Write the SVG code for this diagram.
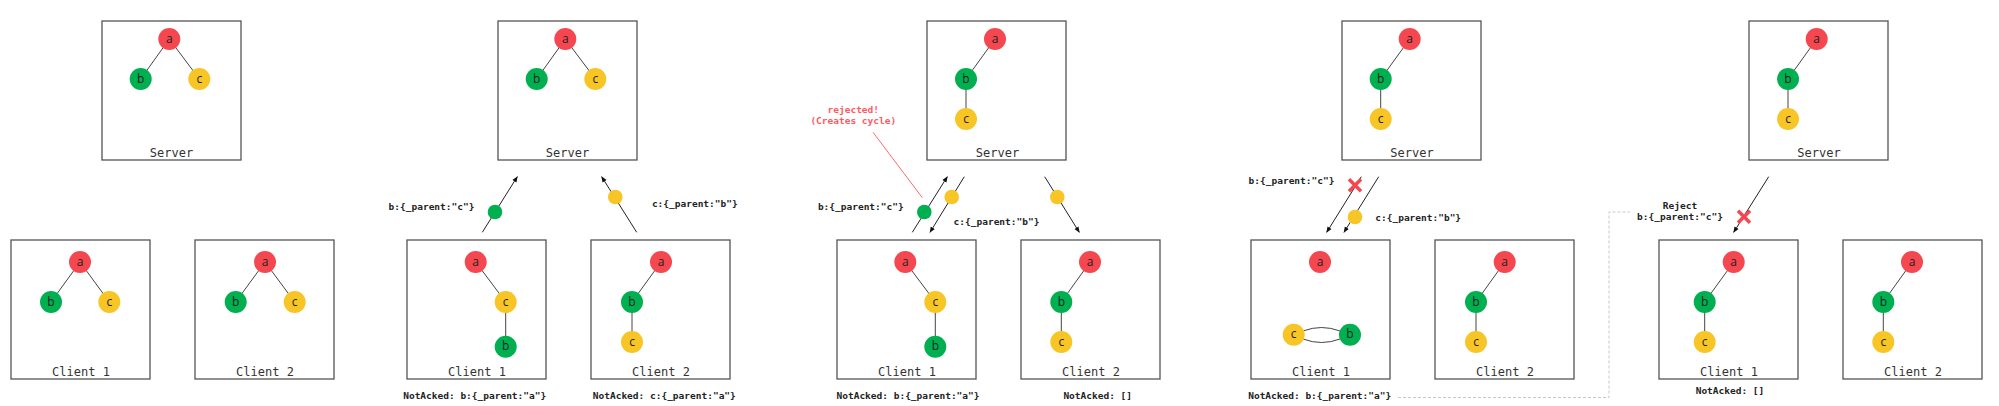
<svg xmlns="http://www.w3.org/2000/svg" width="1999" height="406" viewBox="0 0 1999 406">
<defs>
<marker id="ah" viewBox="0 0 10 10" refX="9" refY="5" markerWidth="6" markerHeight="6" orient="auto-start-reverse" markerUnits="userSpaceOnUse">
<path d="M0,1 L10,5 L0,9 z" fill="#111"/>
</marker>
<style>
.box{fill:#fff;stroke:#555;stroke-width:1.3}
.bt{font-family:"DejaVu Sans Mono","Liberation Mono",monospace;font-size:12px;fill:#333;text-anchor:middle}
.e{stroke:#444;stroke-width:1;fill:none}
.ra{fill:#f4474f}
.gb{fill:#00b050}
.yc{fill:#f8c526}
.nt{font-family:"Open Sans","Noto Sans",sans-serif;font-size:12px;fill:#222;text-anchor:middle;dominant-baseline:central}
.lb{font-family:"DejaVu Sans Mono","Liberation Mono",monospace;font-size:9.5px;font-weight:bold;fill:#222;text-anchor:middle}
.rj{font-family:"DejaVu Sans Mono","Liberation Mono",monospace;font-size:9.5px;font-weight:bold;fill:#ff5a60;text-anchor:middle}
.ar{stroke:#222;stroke-width:1;fill:none;marker-end:url(#ah)}
.x{stroke:#f4474f;stroke-width:3.5;fill:none}
</style>
</defs>

<!-- Panel 1 -->
<g id="p1-server">
<rect class="box" x="102" y="21" width="139" height="139"/>
<line class="e" x1="169.3" y1="39" x2="140.7" y2="79"/><line class="e" x1="169.3" y1="39" x2="199.3" y2="79"/>
<circle class="ra" cx="169.3" cy="39" r="11"/><text class="nt" x="169.3" y="38">a</text>
<circle class="gb" cx="140.7" cy="79" r="11"/><text class="nt" x="140.7" y="78">b</text>
<circle class="yc" cx="199.3" cy="79" r="11"/><text class="nt" x="199.3" y="78">c</text>
<text class="bt" x="171.5" y="157">Server</text>
</g>
<g id="p1-client1">
<rect class="box" x="11" y="240" width="139" height="139"/>
<line class="e" x1="80" y1="262" x2="51" y2="302"/><line class="e" x1="80" y1="262" x2="109.3" y2="302"/>
<circle class="ra" cx="80" cy="262" r="11"/><text class="nt" x="80" y="261">a</text>
<circle class="gb" cx="51" cy="302" r="11"/><text class="nt" x="51" y="301">b</text>
<circle class="yc" cx="109.3" cy="302" r="11"/><text class="nt" x="109.3" y="301">c</text>
<text class="bt" x="81" y="376">Client 1</text>
</g>
<g id="p1-client2">
<rect class="box" x="195" y="240" width="139" height="139"/>
<line class="e" x1="265" y1="262" x2="235.7" y2="302"/><line class="e" x1="265" y1="262" x2="294.7" y2="302"/>
<circle class="ra" cx="265" cy="262" r="11"/><text class="nt" x="265" y="261">a</text>
<circle class="gb" cx="235.7" cy="302" r="11"/><text class="nt" x="235.7" y="301">b</text>
<circle class="yc" cx="294.7" cy="302" r="11"/><text class="nt" x="294.7" y="301">c</text>
<text class="bt" x="265" y="376">Client 2</text>
</g>

<!-- Panel 2 -->
<g id="p2-server">
<rect class="box" x="498" y="21" width="139" height="139"/>
<line class="e" x1="565.3" y1="39" x2="536.7" y2="79"/><line class="e" x1="565.3" y1="39" x2="595.3" y2="79"/>
<circle class="ra" cx="565.3" cy="39" r="11"/><text class="nt" x="565.3" y="38">a</text>
<circle class="gb" cx="536.7" cy="79" r="11"/><text class="nt" x="536.7" y="78">b</text>
<circle class="yc" cx="595.3" cy="79" r="11"/><text class="nt" x="595.3" y="78">c</text>
<text class="bt" x="567.5" y="157">Server</text>
</g>
<g id="p2-client1">
<rect class="box" x="407" y="240" width="139" height="139"/>
<line class="e" x1="475.7" y1="262" x2="505.7" y2="302"/><line class="e" x1="505.7" y1="302" x2="505.7" y2="346.7"/>
<circle class="ra" cx="475.7" cy="262" r="11"/><text class="nt" x="475.7" y="261">a</text>
<circle class="yc" cx="505.7" cy="302" r="11"/><text class="nt" x="505.7" y="301">c</text>
<circle class="gb" cx="505.7" cy="346.7" r="11"/><text class="nt" x="505.7" y="345.7">b</text>
<text class="bt" x="477" y="376">Client 1</text>
</g>
<g id="p2-client2">
<rect class="box" x="591" y="240" width="139" height="139"/>
<line class="e" x1="661" y1="262" x2="632" y2="302"/><line class="e" x1="632" y1="302" x2="632" y2="342"/>
<circle class="ra" cx="661" cy="262" r="11"/><text class="nt" x="661" y="261">a</text>
<circle class="gb" cx="632" cy="302" r="11"/><text class="nt" x="632" y="301">b</text>
<circle class="yc" cx="632" cy="342" r="11"/><text class="nt" x="632" y="341">c</text>
<text class="bt" x="661" y="376">Client 2</text>
</g>

<!-- Panel 3 -->
<g id="p3-server">
<rect class="box" x="927" y="21" width="139" height="139"/>
<line class="e" x1="995" y1="39" x2="966" y2="79"/><line class="e" x1="966" y1="79" x2="966" y2="119"/>
<circle class="ra" cx="995" cy="39" r="11"/><text class="nt" x="995" y="38">a</text>
<circle class="gb" cx="966" cy="79" r="11"/><text class="nt" x="966" y="78">b</text>
<circle class="yc" cx="966" cy="119" r="11"/><text class="nt" x="966" y="118">c</text>
<text class="bt" x="997.5" y="157">Server</text>
</g>
<g id="p3-client1">
<rect class="box" x="837" y="240" width="139" height="139"/>
<line class="e" x1="905.3" y1="262" x2="935.3" y2="302"/><line class="e" x1="935.3" y1="302" x2="935.3" y2="346.7"/>
<circle class="ra" cx="905.3" cy="262" r="11"/><text class="nt" x="905.3" y="261">a</text>
<circle class="yc" cx="935.3" cy="302" r="11"/><text class="nt" x="935.3" y="301">c</text>
<circle class="gb" cx="935.3" cy="346.7" r="11"/><text class="nt" x="935.3" y="345.7">b</text>
<text class="bt" x="907" y="376">Client 1</text>
</g>
<g id="p3-client2">
<rect class="box" x="1021" y="240" width="139" height="139"/>
<line class="e" x1="1090" y1="262" x2="1061.3" y2="302"/><line class="e" x1="1061.3" y1="302" x2="1061.3" y2="342"/>
<circle class="ra" cx="1090" cy="262" r="11"/><text class="nt" x="1090" y="261">a</text>
<circle class="gb" cx="1061.3" cy="302" r="11"/><text class="nt" x="1061.3" y="301">b</text>
<circle class="yc" cx="1061.3" cy="342" r="11"/><text class="nt" x="1061.3" y="341">c</text>
<text class="bt" x="1091" y="376">Client 2</text>
</g>

<!-- Panel 4 -->
<g id="p4-server">
<rect class="box" x="1342" y="21" width="139" height="139"/>
<line class="e" x1="1409.7" y1="39" x2="1380.7" y2="79"/><line class="e" x1="1380.7" y1="79" x2="1380.7" y2="119"/>
<circle class="ra" cx="1409.7" cy="39" r="11"/><text class="nt" x="1409.7" y="38">a</text>
<circle class="gb" cx="1380.7" cy="79" r="11"/><text class="nt" x="1380.7" y="78">b</text>
<circle class="yc" cx="1380.7" cy="119" r="11"/><text class="nt" x="1380.7" y="118">c</text>
<text class="bt" x="1412" y="157">Server</text>
</g>
<g id="p4-client1">
<rect class="box" x="1251" y="240" width="139" height="139"/>
<path class="e" d="M1303,331 Q1321.5,324 1340,331"/>
<path class="e" d="M1303,339 Q1321.5,346 1340,339"/>
<circle class="ra" cx="1320" cy="262" r="11"/><text class="nt" x="1320" y="261">a</text>
<circle class="yc" cx="1293.7" cy="334.7" r="11"/><text class="nt" x="1293.7" y="333.7">c</text>
<circle class="gb" cx="1350" cy="334.7" r="11"/><text class="nt" x="1350" y="333.7">b</text>
<text class="bt" x="1321" y="376">Client 1</text>
</g>
<g id="p4-client2">
<rect class="box" x="1435" y="240" width="139" height="139"/>
<line class="e" x1="1504.7" y1="262" x2="1476" y2="302"/><line class="e" x1="1476" y1="302" x2="1476" y2="342"/>
<circle class="ra" cx="1504.7" cy="262" r="11"/><text class="nt" x="1504.7" y="261">a</text>
<circle class="gb" cx="1476" cy="302" r="11"/><text class="nt" x="1476" y="301">b</text>
<circle class="yc" cx="1476" cy="342" r="11"/><text class="nt" x="1476" y="341">c</text>
<text class="bt" x="1505" y="376">Client 2</text>
</g>

<!-- Panel 5 -->
<g id="p5-server">
<rect class="box" x="1749" y="21" width="139" height="139"/>
<line class="e" x1="1816.7" y1="39" x2="1788" y2="79"/><line class="e" x1="1788" y1="79" x2="1788" y2="119"/>
<circle class="ra" cx="1816.7" cy="39" r="11"/><text class="nt" x="1816.7" y="38">a</text>
<circle class="gb" cx="1788" cy="79" r="11"/><text class="nt" x="1788" y="78">b</text>
<circle class="yc" cx="1788" cy="119" r="11"/><text class="nt" x="1788" y="118">c</text>
<text class="bt" x="1819" y="157">Server</text>
</g>
<g id="p5-client1">
<rect class="box" x="1659" y="240" width="139" height="139"/>
<line class="e" x1="1733.7" y1="262" x2="1704.7" y2="302"/><line class="e" x1="1704.7" y1="302" x2="1704.7" y2="342"/>
<circle class="ra" cx="1733.7" cy="262" r="11"/><text class="nt" x="1733.7" y="261">a</text>
<circle class="gb" cx="1704.7" cy="302" r="11"/><text class="nt" x="1704.7" y="301">b</text>
<circle class="yc" cx="1704.7" cy="342" r="11"/><text class="nt" x="1704.7" y="341">c</text>
<text class="bt" x="1729" y="376">Client 1</text>
</g>
<g id="p5-client2">
<rect class="box" x="1843" y="240" width="139" height="139"/>
<line class="e" x1="1912" y1="262" x2="1883.3" y2="302"/><line class="e" x1="1883.3" y1="302" x2="1883.3" y2="342"/>
<circle class="ra" cx="1912" cy="262" r="11"/><text class="nt" x="1912" y="261">a</text>
<circle class="gb" cx="1883.3" cy="302" r="11"/><text class="nt" x="1883.3" y="301">b</text>
<circle class="yc" cx="1883.3" cy="342" r="11"/><text class="nt" x="1883.3" y="341">c</text>
<text class="bt" x="1913" y="376">Client 2</text>
</g>

<!-- Connectors -->
<g id="connectors">
<line class="ar" x1="482.3" y1="232.3" x2="517.3" y2="176.7"/>
<circle class="gb" cx="495" cy="212" r="7.3"/>
<line class="ar" x1="636.7" y1="232.3" x2="601.7" y2="176.7"/>
<circle class="yc" cx="615.3" cy="197" r="7.3"/>

<line x1="873" y1="132.3" x2="922.3" y2="197.7" stroke="#ff6b70" stroke-width="1"/>
<line class="ar" x1="912.3" y1="232.3" x2="947.3" y2="176.7"/>
<circle class="gb" cx="924.3" cy="212" r="7.3"/>
<line class="ar" x1="964.3" y1="176.7" x2="930" y2="232.3"/>
<circle class="yc" cx="951.7" cy="197" r="7.3"/>
<line class="ar" x1="1044.7" y1="176.7" x2="1079.3" y2="232.3"/>
<circle class="yc" cx="1057.3" cy="197" r="7.3"/>

<line class="ar" x1="1361.3" y1="176.7" x2="1326.7" y2="232.3"/>
<path class="x" d="M1349,179.3 L1361,191.3 M1361,179.3 L1349,191.3"/>
<line class="ar" x1="1378.7" y1="176.7" x2="1344" y2="232.3"/>
<circle class="yc" cx="1355" cy="217" r="7.3"/>

<path d="M1398,397.5 H1609 V212 H1630" fill="none" stroke="#c8c8c8" stroke-width="1" stroke-dasharray="3,2"/>

<line class="ar" x1="1768.7" y1="176.7" x2="1733.7" y2="232.3"/>
<path class="x" d="M1738,210.7 L1750,222.7 M1750,210.7 L1738,222.7"/>
</g>

<!-- Labels -->
<g id="labels">
<text class="lb" x="431.5" y="210">b:{_parent:"c"}</text>
<text class="lb" x="694.8" y="207">c:{_parent:"b"}</text>
<text class="lb" x="474.7" y="399.3">NotAcked: b:{_parent:"a"}</text>
<text class="lb" x="664.3" y="399.3">NotAcked: c:{_parent:"a"}</text>

<text class="rj" x="853.3" y="112.5">rejected!</text>
<text class="rj" x="853.3" y="123.5">(Creates cycle)</text>
<text class="lb" x="860.8" y="210.3">b:{_parent:"c"}</text>
<text class="lb" x="996.5" y="225">c:{_parent:"b"}</text>
<text class="lb" x="908" y="399.3">NotAcked: b:{_parent:"a"}</text>
<text class="lb" x="1097.7" y="399.3">NotAcked: []</text>

<text class="lb" x="1291.5" y="183.6">b:{_parent:"c"}</text>
<text class="lb" x="1418.2" y="221">c:{_parent:"b"}</text>
<text class="lb" x="1319.7" y="399.3">NotAcked: b:{_parent:"a"}</text>

<text class="lb" x="1680" y="209">Reject</text>
<text class="lb" x="1680" y="220.3">b:{_parent:"c"}</text>
<text class="lb" x="1730" y="393.6">NotAcked: []</text>
</g>
</svg>
